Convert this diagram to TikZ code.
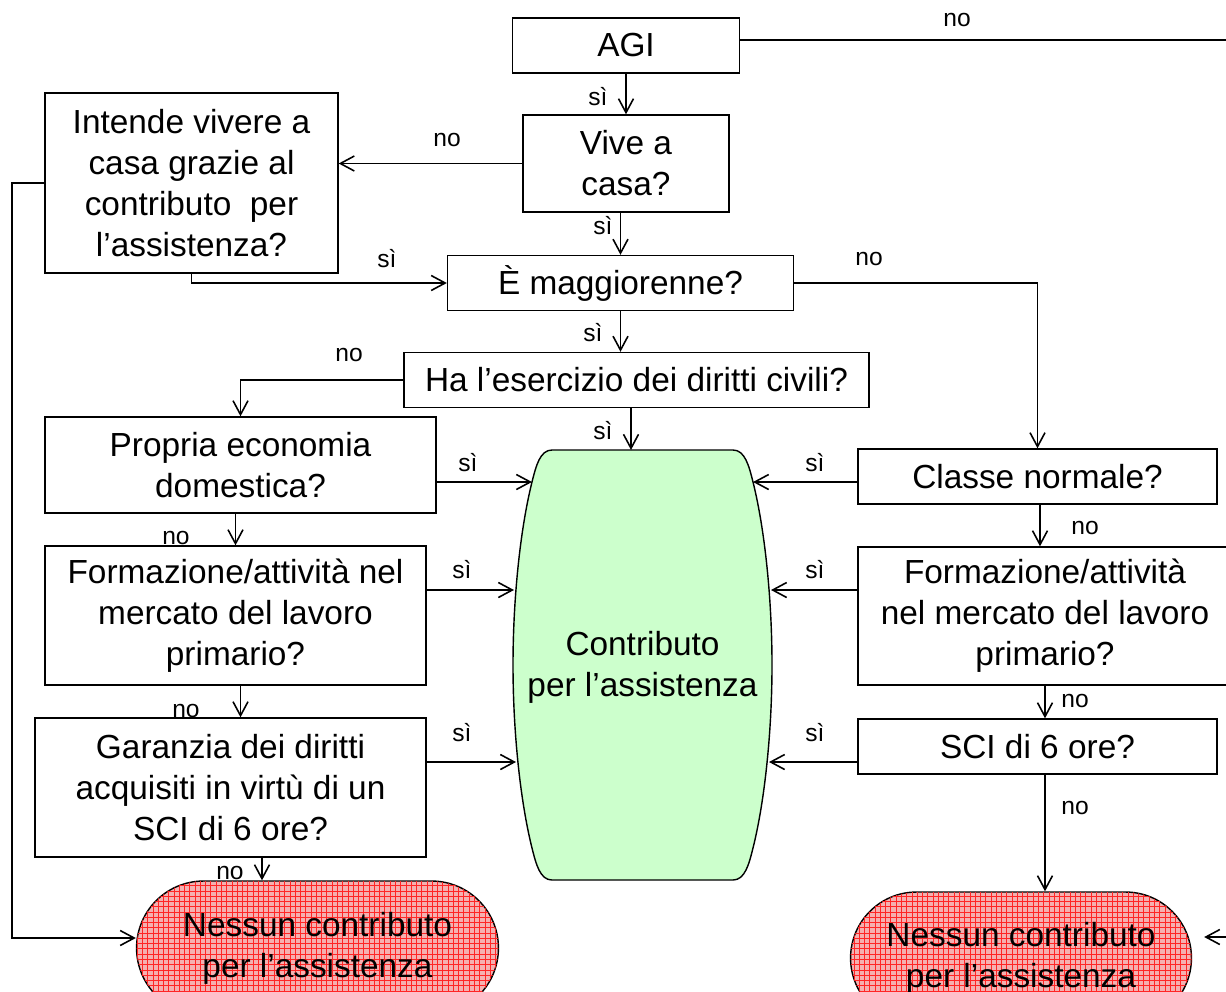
\documentclass[tikz,border=0pt]{standalone}
\usepackage{fontspec}
\setmainfont{Liberation Sans}
\usepackage{tikz}
\usetikzlibrary{arrows.meta, shapes.misc, patterns}
\definecolor{mint}{HTML}{CCFFCC}
\definecolor{rosy}{HTML}{F5B0B0}
\tikzset{
    box/.style={draw, line width=0.8pt, align=center, inner sep=2pt, font=\fontsize{19}{23.3}\selectfont},
    pill/.style={box, rounded rectangle, fill=rosy, postaction={pattern=grid, pattern color=red!85}},
    lab/.style={font=\fontsize{14}{16}\selectfont, inner sep=0pt},
    arr/.style={line width=0.9pt, -{Straight Barb[length=2.8mm,width=3mm]}}
}

\begin{document}
\begin{tikzpicture}[x=0.02cm, y=-0.02cm]
\useasboundingbox (0,0) rectangle (1226,991);

\draw[line width=0.8pt, fill=mint] (552,450) -- (733,450)
    .. controls (745,450) and (749,466) .. (753,482)
    .. controls (765,530) and (772,600) .. (772,665)
    .. controls (772,730) and (765,800) .. (753,848)
    .. controls (749,864) and (745,880) .. (733,880) -- (552,880)
    .. controls (540,880) and (536,864) .. (532,848)
    .. controls (520,800) and (513,730) .. (513,665)
    .. controls (513,600) and (520,530) .. (532,482)
    .. controls (536,466) and (540,450) .. (552,450) -- cycle;

\begin{scope}[every node/.style={box}]
    \node[minimum width=4.54cm, minimum height=1.1cm] (agi) at (626,45.5) {AGI};
    \node[minimum width=4.12cm, minimum height=1.94cm] (vive) at (626,163.5) {Vive a\\casa?};
    \node[minimum width=5.86cm, minimum height=3.6cm] (intende) at (191.5,183) {Intende vivere a\\casa grazie al\\contributo~ per\\l’assistenza?};
    \node[minimum width=6.92cm, minimum height=1.1cm] (magg) at (620.5,283) {È maggiorenne?};
    \node[minimum width=9.3cm, minimum height=1.1cm] (eserc) at (636.5,380) {Ha l’esercizio dei diritti civili?};
    \node[minimum width=7.82cm, minimum height=1.92cm] (propria) at (240.5,465) {Propria economia\\domestica?};
    \node[minimum width=7.62cm, minimum height=2.78cm] (formL) at (235.5,615.5) {Formazione/attività nel\\mercato del lavoro\\primario?};
    \node[minimum width=7.82cm, minimum height=2.78cm] (garanzia) at (230.5,787.5) {Garanzia dei diritti\\acquisiti in virtù di un\\SCI di 6 ore?};
    \node[minimum width=7.18cm, minimum height=1.1cm] (classe) at (1037.5,476.5) {Classe normale?};
    \node[minimum width=7.48cm, minimum height=2.76cm] (formR) at (1045,616) {Formazione/attività\\nel mercato del lavoro\\primario?};
    \node[minimum width=7.18cm, minimum height=1.1cm] (sci) at (1037.5,746.5) {SCI di 6 ore?};
    \node[pill, minimum width=7.38cm, minimum height=2.68cm] (nessL) at (317.5,948) {Nessun contributo\\per l’assistenza};
    \node[pill, minimum width=6.96cm, minimum height=2.64cm] (nessR) at (1021,958) {Nessun contributo\\per l’assistenza};
    \node[draw=none] (contrib) at (642.5,667) {Contributo\\per l’assistenza};
\end{scope}

\coordinate (gTop) at (631,450);
\coordinate (gL1) at (532,482);
\coordinate (gL2) at (514,590);
\coordinate (gL3) at (516,762);
\coordinate (gR1) at (753,482);
\coordinate (gR2) at (771,590);
\coordinate (gR3) at (769,762);
\coordinate (railL) at (12,938);
\coordinate (railTop) at (1240,40);
\coordinate (railBot) at (1240,937);

\draw[arr] (agi) -- (vive);
\draw[arr] (magg.north |- vive.south) -- (magg.north);
\draw[arr] (vive.west) -- (intende.east |- vive.west);
\draw[arr] (intende.south) |- (magg.west);
\draw[arr] (intende.west) -| (railL) -- (railL -| nessL.west);
\draw[arr] (magg.east) -| (classe.north);
\draw[arr] (magg.south) -- (magg.south |- eserc.north);
\draw[arr] (eserc.west) -| (propria.north);
\draw[arr] (eserc.south -| gTop) -- (gTop);
\draw[arr] (propria.east |- gL1) -- (gL1);
\draw[arr] (formL.north |- propria.south) -- (formL.north);
\draw[arr] (formL.east |- gL2) -- (gL2);
\draw[arr] ([xshift=0.1cm]formL.south) -- ([xshift=0.1cm]formL.south |- garanzia.north);
\draw[arr] (garanzia.east |- gL3) -- (gL3);
\draw[arr] ([xshift=0.63cm]garanzia.south) -- ([xshift=0.63cm]garanzia.south |- nessL.north);
\draw[arr] (classe.west |- gR1) -- (gR1);
\draw[arr] ([xshift=0.05cm]classe.south) -- ([xshift=0.05cm]classe.south |- formR.north);
\draw[arr] (formR.west |- gR2) -- (gR2);
\draw[arr] (formR.south) -- (formR.south |- sci.north);
\draw[arr] (sci.west |- gR3) -- (gR3);
\draw[arr] (formR.south |- sci.south) -- (formR.south |- nessR.north);
\draw[arr, shorten >=0.24cm] (agi.east |- railTop) -- (railTop) -- (railBot) -- (railBot -| nessR.east);

\node[lab] (n1) at (957,20) {no};
\node[lab] (s1) at (598,97) {sì};
\node[lab] (n2) at (447,140) {no};
\node[lab] (s2) at (603,226) {sì};
\node[lab] (s3) at (387,259) {sì};
\node[lab] (n3) at (869,259) {no};
\node[lab] (s4) at (593,333) {sì};
\node[lab] (n4) at (349,355) {no};
\node[lab] (s5) at (603,431) {sì};
\node[lab] (s6) at (468,463) {sì};
\node[lab] (s7) at (815,463) {sì};
\node[lab] (n5) at (176,538) {no};
\node[lab] (n6) at (1085,528) {no};
\node[lab] (s8) at (462,570) {sì};
\node[lab] (s9) at (815,570) {sì};
\node[lab] (n7) at (186,711) {no};
\node[lab] (n8) at (1075,701) {no};
\node[lab] (s10) at (462,733) {sì};
\node[lab] (s11) at (815,733) {sì};
\node[lab] (n9) at (1075,808) {no};
\node[lab] (n10) at (230,873) {no};

\end{tikzpicture}
\end{document}
